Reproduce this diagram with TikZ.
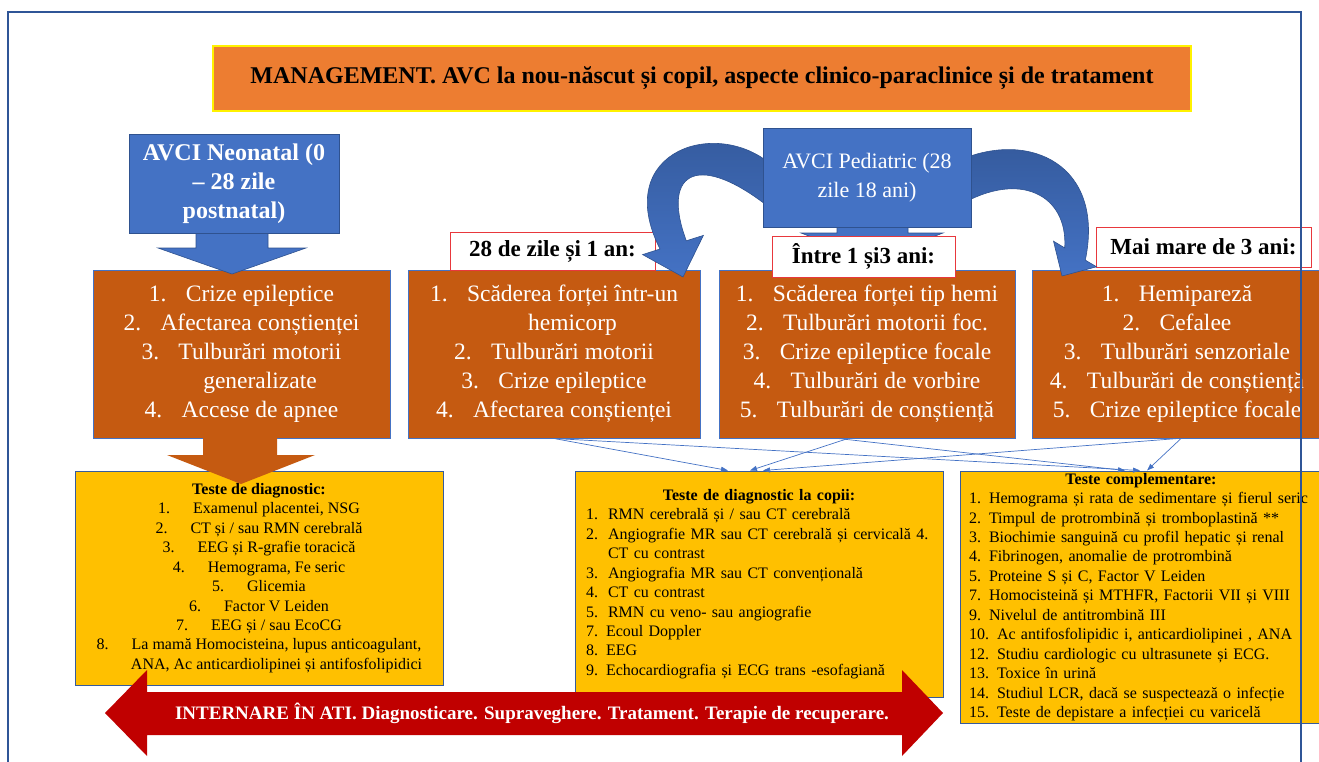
\documentclass[tikz,border=0pt]{standalone}
\usepackage{fontspec}
\setmainfont{Liberation Serif}
\usetikzlibrary{arrows.meta}
\definecolor{tblue}{HTML}{4472C4}
\definecolor{tblueD}{HTML}{2F528F}
\definecolor{frameblue}{HTML}{2F5597}
\definecolor{torange}{HTML}{ED7D31}
\definecolor{tbrown}{HTML}{C55A11}
\definecolor{tyellow}{HTML}{FFC000}
\definecolor{tred}{HTML}{C00000}
\definecolor{lblred}{HTML}{E8383D}
\definecolor{titleborder}{HTML}{FFF200}
\newcommand\li[2]{\makebox[37pt][l]{#1}#2}
\newcommand\lj[2]{\makebox[35pt][l]{#1}#2}
\newcommand\lk[2]{\makebox[22pt][l]{#1}#2}
\begin{document}
\begin{tikzpicture}[x=1pt,y=-1pt,
  bluebox/.style={draw=tblueD, line width=1pt, fill=tblue, text=white, inner sep=0pt, align=center},
  brownbox/.style={draw=tblue, line width=1pt, fill=tbrown, text=white, inner sep=0pt, align=center,
    minimum height=168pt, font=\fontsize{23.5}{29}\selectfont},
  ybox/.style={draw=tblue!80!black, line width=1pt, fill=tyellow, text=black, inner ysep=0pt,
    font=\fontsize{16}{19.45}\selectfont},
  lbl/.style={draw=lblred, line width=0.8pt, fill=white, inner sep=0pt, font=\bfseries\fontsize{23}{28}\selectfont},
  conn/.style={draw=tblue, line width=0.7pt, -{Triangle[length=7pt,width=5pt]}},
  curvearrow/.style={draw=tblueD, line width=0.6pt, top color=tblueD!80!tblue, bottom color=tblue},
  straightarrow/.style={draw=tblueD, line width=0.6pt, fill=tblue}
]
\useasboundingbox (0,0) rectangle (1319,762);
\begin{scope}
\clip (0,0) rectangle (1319,762);

% title
\node[draw=titleborder, line width=1.2pt, fill=torange, minimum width=978pt, minimum height=65pt,
  inner sep=0pt, font=\bfseries\fontsize{24}{29}\selectfont] (title) at (702,78.5)
  {MANAGEMENT. AVC la nou-născut și copil, aspecte clinico-paraclinice și de tratament};

% symptom boxes
\node[brownbox, minimum width=297pt] (b1) at (241.5,354)
  {\li{1.}{Crize epileptice}\\ \li{2.}{Afectarea conștienței}\\ \li{3.}{Tulburări motorii}\\
   \hspace*{37pt}generalizate\\ \li{4.}{Accese de apnee}};
\node[brownbox, minimum width=292pt] (b2) at (554,354)
  {\li{1.}{Scăderea forței într-un}\\ \hspace*{37pt}hemicorp\\ \li{2.}{Tulburări motorii}\\
   \li{3.}{Crize epileptice}\\ \li{4.}{Afectarea conștienței}};
\node[brownbox, minimum width=296pt] (b3) at (867,354)
  {\li{1.}{Scăderea forței tip hemi}\\ \li{2.}{Tulburări motorii foc.}\\ \li{3.}{Crize epileptice focale}\\
   \li{4.}{Tulburări de vorbire}\\ \li{5.}{Tulburări de conștiență}};
\node[brownbox, minimum width=290pt] (b4) at (1177,354)
  {\li{1.}{Hemipareză}\\ \li{2.}{Cefalee}\\ \li{3.}{Tulburări senzoriale}\\
   \li{4.}{Tulburări de conștiență}\\ \li{5.}{Crize epileptice focale}};

% test boxes
\node[ybox, minimum width=368pt, minimum height=214pt, align=center, inner xsep=0pt] (y1) at (259,578)
  {\textbf{Teste de diagnostic:}\\ \lj{1.}{Examenul placentei, NSG}\\ \lj{2.}{CT și / sau RMN cerebrală}\\
   \lj{3.}{EEG și R-grafie toracică}\\ \lj{4.}{Hemograma, Fe seric}\\ \lj{5.}{Glicemia}\\
   \lj{6.}{Factor V Leiden}\\ \lj{7.}{EEG și / sau EcoCG}\\
   \lj{8.}{La mamă Homocisteina, lupus anticoagulant,}\\
   \hspace*{35pt}ANA, Ac anticardiolipinei și antifosfolipidici};
\node[ybox, minimum width=368pt, minimum height=226pt, align=left, inner xsep=11pt, text width=346pt] (y2) at (759,584)
  {\makebox[\linewidth][c]{\bfseries Teste de diagnostic la copii:}\\
   \lk{1.}{RMN cerebrală  și / sau CT cerebrală}\\
   \lk{2.}{Angiografie MR sau CT cerebrală  și cervicală 4.}\\
   \hspace*{22pt}CT cu contrast\\
   \lk{3.}{Angiografia MR sau CT convențională}\\
   \lk{4.}{CT cu contrast}\\
   \lk{5.}{RMN cu veno- sau angiografie}\\
   7. Ecoul Doppler\\ 8. EEG\\ 9. Echocardiografia și ECG trans -esofagiană};
\node[ybox, minimum width=362pt, minimum height=252pt, align=left, inner xsep=9pt, text width=344pt] (y3) at (1141,597)
  {\makebox[\linewidth][c]{\bfseries Teste complementare:}\\
   1. Hemograma și rata de sedimentare și fierul seric\\
   2. Timpul de protrombină și tromboplastină **\\
   3. Biochimie sanguină cu profil hepatic și renal\\
   4. Fibrinogen, anomalie de protrombină\\
   5. Proteine S și C, Factor V Leiden\\
   7. Homocisteină și MTHFR, Factorii VII și VIII\\
   9. Nivelul de antitrombină III\\
   10. Ac antifosfolipidic i, anticardiolipinei , ANA\\
   12. Studiu cardiologic cu ultrasunete și ECG.\\
   13. Toxice în urină\\
   14. Studiul LCR, dacă se suspectează o infecție\\
   15. Teste de depistare a infecției cu varicelă};

% straight block arrows
\fill[tbrown] (203,437) -- (277,437) -- (277,455) -- (315,455) -- (241,484) -- (167,455) -- (203,455) -- cycle;
\path[straightarrow] (196,233) -- (268,233) -- (268,248) -- (306,248) -- (232,274) -- (158,248) -- (196,248) -- cycle;
\path[straightarrow] (837,227) -- (908,227) -- (908,233) -- (943,233) -- (872,260) -- (801,233) -- (837,233) -- cycle;

% age labels
\node[lbl, minimum width=205pt, minimum height=38pt] (l1) at (552.5,251) {28 de zile și 1 an:};
\node[lbl, minimum width=183pt, minimum height=41pt] (l2) at (863.5,256.5) {Între 1 și3 ani:};
\node[lbl, minimum width=215pt, minimum height=40pt] (l3) at (1203.5,247) {Mai mare de 3 ani:};

% curved arrows
\path[curvearrow] (775,168) .. controls (720,115) and (610,150) .. (660,249) -- (642.6,254.6) -- (683,277)
  -- (703.4,235.4) -- (686.3,240.8) .. controls (660,170) and (700,150) .. (775,212) -- cycle;
\path[curvearrow] (960,160) .. controls (1030,130) and (1105,165) .. (1085.3,260.1) -- (1096.5,266.8) -- (1062,276)
  -- (1053.5,241.2) -- (1064.7,247.9) .. controls (1068,195) and (1020,170) .. (960,205) -- cycle;

% category boxes
\node[bluebox, minimum width=210pt, minimum height=98pt, font=\bfseries\fontsize{24}{29}\selectfont] (neo) at (234,184)
  {AVCI Neonatal (0\\– 28 zile\\postnatal)};
\node[bluebox, minimum width=208pt, minimum height=98pt, font=\fontsize{22}{29}\selectfont] (ped) at (867,178)
  {AVCI Pediatric (28\\zile 18 ani)};

% red double arrow
\fill[tred] (105,713) -- (147,670) -- (147,692) -- (902,692) -- (902,670) -- (943,713) -- (902,756)
  -- (902,735) -- (147,735) -- (147,756) -- cycle;
\node[text=white, inner sep=0pt, font=\bfseries\fontsize{19}{23}\selectfont] (ati) at (532,713)
  {INTERNARE ÎN ATI. Diagnosticare. Supraveghere. Tratament. Terapie de recuperare.};

% connectors
\draw[conn] (b2.south) -- ([xshift=-31pt]y2.north);
\draw[conn] ([xshift=-19pt]b3.south) -- ([xshift=-9pt]y2.north);
\draw[conn] ([xshift=1pt]b4.south) -- ([xshift=4pt]y2.north);
\draw[conn] (b2.south) -- ([xshift=-1pt]y3.north);
\draw[conn] ([xshift=-29pt]b3.south) -- ([xshift=-16pt]y3.north);
\draw[conn] ([xshift=4pt]b4.south) -- ([xshift=6pt]y3.north);

% frame
\draw[frameblue, line width=2pt] (8,770) -- (8,12) -- (1301,12) -- (1301,770);
\end{scope}
\end{tikzpicture}
\end{document}
